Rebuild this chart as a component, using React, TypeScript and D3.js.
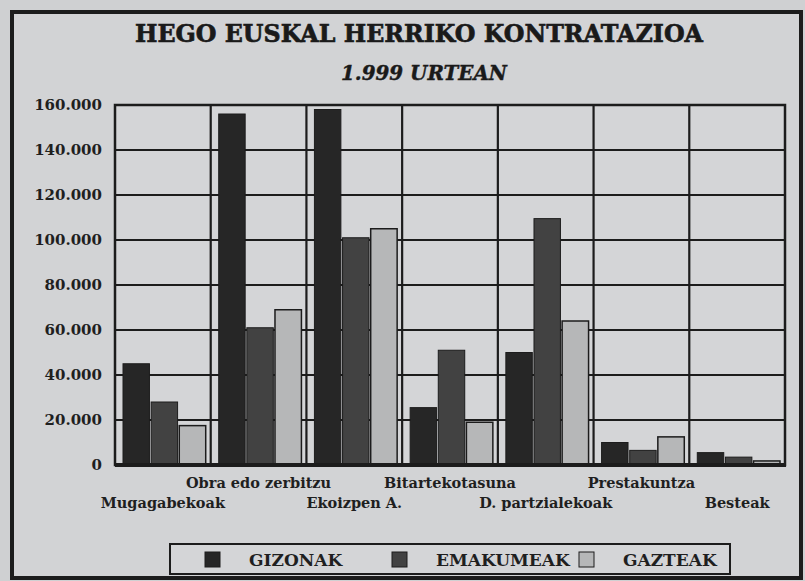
import React from "react";
import * as d3 from "d3";

const categories = [
  "Mugagabekoak",
  "Obra edo zerbitzu",
  "Ekoizpen A.",
  "Bitartekotasuna",
  "D. partzialekoak",
  "Prestakuntza",
  "Besteak",
];
const seriesNames = ["GIZONAK", "EMAKUMEAK", "GAZTEAK"];
const gizonak = [45000, 156000, 158000, 25500, 50000, 10000, 5500];
const emakumeak = [28000, 61000, 101000, 51000, 109500, 6500, 3500];
const gazteak = [17500, 69000, 105000, 19000, 64000, 12500, 1800];
const yTicks = [0, 20000, 40000, 60000, 80000, 100000, 120000, 140000, 160000];
const title = "HEGO EUSKAL HERRIKO KONTRATAZIOA";
const subtitle = "1.999 URTEAN";

const seriesValues = [gizonak, emakumeak, gazteak];
const colors = ["#262626", "#424242", "#b6b7b8"];
const FONT = "'DejaVu Serif', serif";

export default function App() {
  const W = 805;
  const H = 581;
  const left = 115;
  const right = 785;
  const top = 105;
  const bottom = 465;

  const x0 = d3.scaleBand<string>().domain(categories).range([left, right]).paddingInner(0).paddingOuter(0);
  const bw = x0.bandwidth();
  const x1 = d3.scaleBand<string>().domain(seriesNames).range([8, bw - 5]).paddingInner(0.06);
  const y = d3.scaleLinear().domain([0, 160000]).range([bottom, top]);
  const fmt = d3.formatLocale({ decimal: ",", thousands: ".", grouping: [3], currency: ["", ""] }).format(",");

  const boundaries = categories.slice(1).map((c) => x0(c) as number);

  const legendX = 205;
  const legendStep = 187;

  return (
    <svg width={W} height={H} style={{ position: "absolute", left: 0, top: 0, background: "#cfd0d2" }}>
      <rect x={12} y={12} width={789} height={566} fill="#d2d3d5" stroke="#1c1c1c" strokeWidth={4} />
      <text x={419} y={42} textAnchor="middle" fontFamily={FONT} fontWeight="bold" fontSize={25} fill="#1a1a1a"
        stroke="#1a1a1a" strokeWidth={0.7} textLength={568} lengthAdjust="spacingAndGlyphs">{title}</text>
      <text x={424} y={80} textAnchor="middle" fontFamily={FONT} fontWeight="bold" fontStyle="italic" fontSize={20} fill="#1a1a1a"
        stroke="#1a1a1a" strokeWidth={0.4} textLength={166} lengthAdjust="spacingAndGlyphs">{subtitle}</text>

      {/* plot background */}
      <rect x={left} y={top} width={right - left} height={bottom - top} fill="#d4d5d7" />

      {/* horizontal gridlines */}
      {yTicks.filter((t) => t > 0 && t < 160000).map((t) => (
        <line key={"h" + t} x1={left} x2={right} y1={y(t)} y2={y(t)} stroke="#1c1c1c" strokeWidth={2.2} />
      ))}
      {/* vertical gridlines */}
      {boundaries.map((bx, i) => (
        <line key={"v" + i} x1={bx} x2={bx} y1={top} y2={bottom} stroke="#1c1c1c" strokeWidth={2.2} />
      ))}

      {/* bars */}
      {categories.map((c, ci) => (
        <g key={c} transform={`translate(${x0(c)},0)`}>
          {seriesNames.map((s, si) => {
            const v = seriesValues[si][ci];
            return (
              <rect key={s} x={x1(s)} y={y(v)} width={x1.bandwidth()} height={y(0) - y(v)}
                fill={colors[si]} stroke="#1c1c1c" strokeWidth={si === 2 ? 1.5 : 1} />
            );
          })}
        </g>
      ))}

      {/* plot border */}
      <rect x={left} y={top} width={right - left} height={bottom - top} fill="none" stroke="#1c1c1c" strokeWidth={2.5} />
      <line x1={left} x2={right + 1} y1={bottom} y2={bottom} stroke="#1c1c1c" strokeWidth={4} />

      {/* y tick labels */}
      {yTicks.map((t) => (
        <text key={"yl" + t} x={102} y={y(t)} dy="0.36em" textAnchor="end" fontFamily={FONT} fontWeight="bold" fontSize={15} fill="#1f1f1f">
          {fmt(t)}
        </text>
      ))}

      {/* x labels, staggered */}
      {categories.map((c, i) => (
        <text key={"xl" + c} x={(x0(c) as number) + bw / 2} y={i % 2 === 0 ? 508 : 488} textAnchor="middle"
          fontFamily={FONT} fontWeight="bold" fontSize={14.5} fill="#1f1f1f">
          {c}
        </text>
      ))}

      {/* legend */}
      <rect x={170} y={544} width={560} height={30} fill="#d4d5d7" stroke="#1c1c1c" strokeWidth={2} />
      {seriesNames.map((s, i) => (
        <g key={"lg" + s}>
          <rect x={legendX + i * legendStep} y={552} width={15} height={15} fill={colors[i]} stroke="#1c1c1c" strokeWidth={1} />
          <text x={legendX + i * legendStep + 44} y={566} fontFamily={FONT} fontWeight="bold" fontSize={17} fill="#1f1f1f">
            {s}
          </text>
        </g>
      ))}
    </svg>
  );
}
